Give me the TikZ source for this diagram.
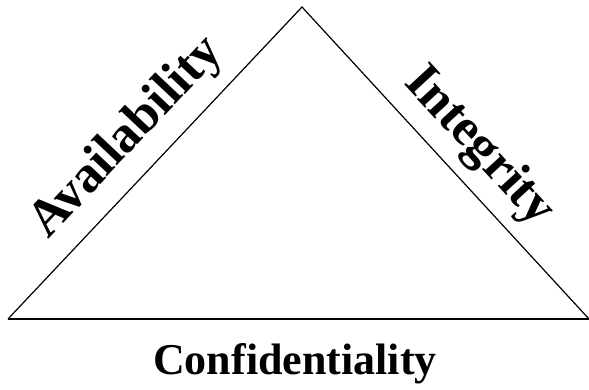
\documentclass[tikz,border=0pt]{standalone}
\usepackage{fontspec}
\setmainfont{Liberation Serif}
\begin{document}
\begin{tikzpicture}[x=1pt,y=1pt]
\tikzset{
  edge/.style={line width=1.2pt},
  baseline edge/.style={line width=2pt},
  sidelbl/.style={inner sep=0pt, font=\bfseries\fontsize{52}{52}\selectfont},
  bottomlbl/.style={inner sep=0pt, font=\bfseries\fontsize{44}{44}\selectfont}
}
\useasboundingbox (0,0) rectangle (589,389);
\coordinate (L) at (8,70);
\coordinate (T) at (302,382);
\coordinate (R) at (589,70);
\draw[edge, line join=miter] (L) -- (T) -- (R);
\draw[baseline edge] (L) -- (R);
\node[sidelbl, anchor=base west, rotate=46.7] (avail) at (48,149) {Availability};
\node[sidelbl, anchor=base west, rotate=-47.3] (integ) at (403,306) {Integrity};
\node[bottomlbl, anchor=base] (conf) at (295,15) {Confidentiality};
\end{tikzpicture}
\end{document}
